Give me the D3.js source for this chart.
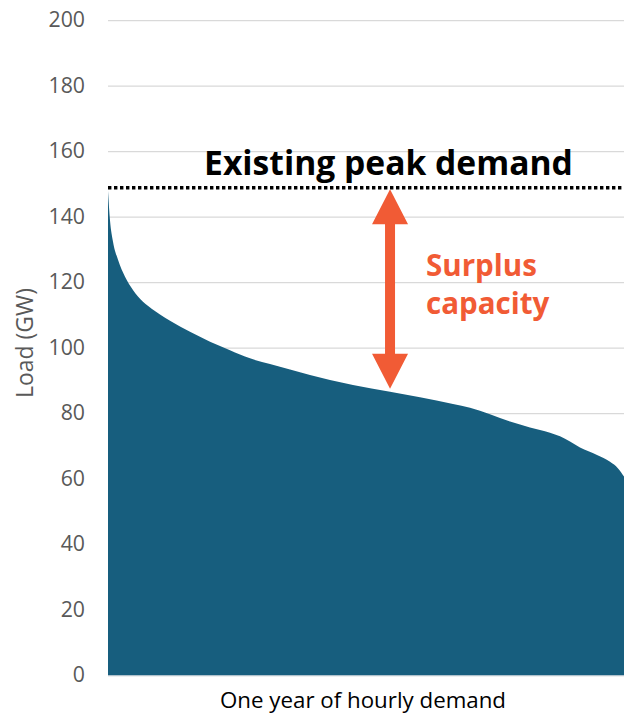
<!DOCTYPE html>
<html>
<head>
<meta charset="utf-8">
<script src="https://cdn.jsdelivr.net/npm/d3@7"></script>
<style>
  html, body { margin: 0; padding: 0; background: #ffffff; }
  svg { display: block; }
  text { font-family: "Open Sans", sans-serif; }
</style>
</head>
<body>
<svg id="chart" width="624" height="716"></svg>
<script>
// Load duration curve: hourly demand sorted from highest to lowest over one year
const hourRank = [0, 34, 85, 170, 289, 424, 594, 747, 883, 1053, 1392, 1732, 2071, 2411, 2750,
  3090, 3429, 3769, 4159, 4788, 5297, 5857, 6146, 6315, 6485, 6825, 7164, 7504, 7674,
  7843, 8013, 8302, 8523, 8659, 8760];
const loadGW = [148, 139, 132.5, 127, 121.8, 117.8, 114.2, 112, 110.3, 108.4, 105, 102, 99.4, 96.9, 95.2,
  93.5, 91.8, 90.3, 88.8, 86.7, 85, 83.0, 81.8, 80.9, 79.8, 77.6, 75.8, 74.2, 73.1,
  71.5, 69.7, 67.4, 65.3, 63.3, 60.8];
const yTicks = [0, 20, 40, 60, 80, 100, 120, 140, 160, 180, 200];
const peakDemand = 149;
const hoursInYear = 8760;

const margin = { top: 20.7, left: 108, right: 0, bottom: 40.3 };
const width = 624, height = 716;

const svg = d3.select("#chart");

const x = d3.scaleLinear().domain([0, hoursInYear]).range([margin.left, width - margin.right]);
const y = d3.scaleLinear().domain([0, 200]).range([height - margin.bottom, margin.top]);

// Size a text element so that it spans the given width
function fitWidth(sel, target) {
  const node = sel.node();
  const base = parseFloat(sel.style("font-size"));
  const w = node.getComputedTextLength();
  if (w > 0) sel.style("font-size", (base * target / w).toFixed(2) + "px");
  return sel;
}

// Horizontal gridlines
svg.append("g")
  .selectAll("line")
  .data(yTicks)
  .join("line")
  .attr("x1", x(0))
  .attr("x2", x(hoursInYear))
  .attr("y1", d => y(d))
  .attr("y2", d => y(d))
  .attr("stroke", "#d9d9d9")
  .attr("stroke-width", 1.3);

// Y axis labels (no axis line)
const yAxis = svg.append("g")
  .attr("transform", `translate(${margin.left - 23},0)`)
  .call(d3.axisLeft(y).tickValues(yTicks).tickSize(0).tickPadding(0));
yAxis.select(".domain").remove();
yAxis.selectAll("text")
  .attr("fill", "#595959")
  .attr("dy", "0.28em")
  .style("font-size", "19px")
  .style("font-family", "'Open Sans', sans-serif");
const tick200 = yAxis.selectAll("text").filter(d => d === 200);
const tickSize = parseFloat(fitWidth(tick200, 36.5).style("font-size"));
yAxis.selectAll("text").style("font-size", tickSize + "px");

// Area under the load duration curve
const pts = hourRank.map((h, i) => ({ h, v: loadGW[i] }));
const area = d3.area()
  .x(d => x(d.h))
  .y0(y(0))
  .y1(d => y(d.v))
  .curve(d3.curveMonotoneX);

svg.append("path")
  .datum(pts)
  .attr("d", area)
  .attr("fill", "#175e7e");

// Baseline
svg.append("line")
  .attr("x1", x(0)).attr("x2", x(hoursInYear))
  .attr("y1", y(0)).attr("y2", y(0))
  .attr("stroke", "#c8d3da").attr("stroke-width", 1);

// Existing peak demand line
svg.append("line")
  .attr("x1", x(0)).attr("x2", x(hoursInYear))
  .attr("y1", y(peakDemand)).attr("y2", y(peakDemand))
  .attr("stroke", "#000")
  .attr("stroke-width", 3.4)
  .attr("stroke-dasharray", "3.4,2.6");

fitWidth(svg.append("text")
  .attr("x", 388.5)
  .attr("y", 175)
  .attr("text-anchor", "middle")
  .attr("fill", "#000")
  .style("font-size", "30px")
  .style("font-weight", "700")
  .text("Existing peak demand"), 369);

// Double-headed arrow marking the surplus capacity
const arrowX = x(4788);
const topY = y(peakDemand) + 1.5;
const botY = y(loadGW[19]) - 3;
const headH = 35, headW = 18, shaftW = 5;
const arrowColor = "#f15b35";
svg.append("path")
  .attr("d", [
    `M${arrowX},${topY}`,
    `L${arrowX + headW},${topY + headH}`,
    `L${arrowX + shaftW},${topY + headH}`,
    `L${arrowX + shaftW},${botY - headH}`,
    `L${arrowX + headW},${botY - headH}`,
    `L${arrowX},${botY}`,
    `L${arrowX - headW},${botY - headH}`,
    `L${arrowX - shaftW},${botY - headH}`,
    `L${arrowX - shaftW},${topY + headH}`,
    `L${arrowX - headW},${topY + headH}`,
    "Z"
  ].join(""))
  .attr("fill", arrowColor);

const surplus = svg.append("text")
  .attr("fill", arrowColor)
  .style("font-size", "25px")
  .style("font-weight", "700");
const t1 = surplus.append("tspan").attr("x", 426).attr("y", 276).text("Surplus");
surplus.append("tspan").attr("x", 426).attr("y", 314).text("capacity");
{
  const w = t1.node().getComputedTextLength();
  if (w > 0) surplus.style("font-size", (25 * 111 / w).toFixed(2) + "px");
}

// Axis titles
fitWidth(svg.append("text")
  .attr("transform", `translate(33,343) rotate(-90)`)
  .attr("text-anchor", "middle")
  .attr("fill", "#595959")
  .style("font-size", "19px")
  .text("Load (GW)"), 110);

fitWidth(svg.append("text")
  .attr("x", 363)
  .attr("y", 708)
  .attr("text-anchor", "middle")
  .attr("fill", "#000")
  .style("font-size", "20px")
  .text("One year of hourly demand"), 286);
</script>
</body>
</html>
